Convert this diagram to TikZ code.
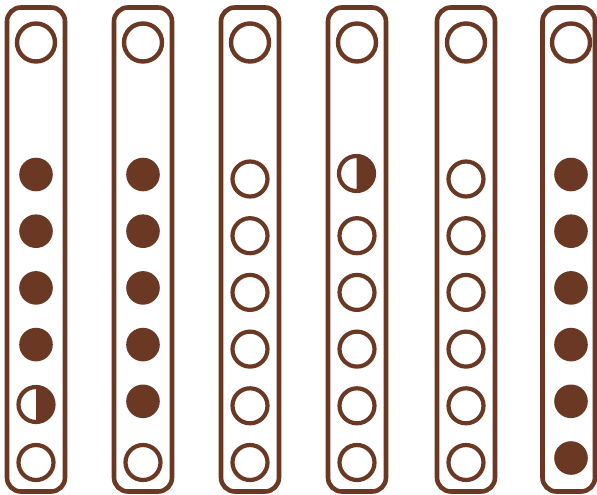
\documentclass[tikz,border=0pt]{standalone}
\definecolor{rust}{HTML}{6B3823}
\tikzset{
  rail/.style={draw=rust, line width=4.6pt, rounded corners=14pt},
  cap ring/.style={draw=rust, line width=4.4pt},
  hole/.style={draw=rust, line width=4.2pt},
  bead/.style={fill=rust},
}
% half bead: open ring with its right half filled
\newcommand{\halfbead}[2]{%
  \begin{scope}
    \clip (#1,#2-25) rectangle (#1+25,#2+25);
    \fill[rust] (#1,#2) circle[radius=17.5pt];
  \end{scope}
  \draw[hole] (#1,#2) circle[radius=17.5pt];
}
\begin{document}
\begin{tikzpicture}[x=1pt, y=-1pt]
    \useasboundingbox (0,0) rectangle (597,495);

    % Rails with their top ring
    \foreach \cx in {36,143,250,357,466} {
        \draw[rail] (\cx-29,7.5) rectangle (\cx+29,491.5);
        \draw[cap ring] (\cx,42.5) circle[radius=19pt];
    }
    % last rail is cut by the right edge
    \draw[rail] (542.5,7.5) rectangle (595,491.5);
    \draw[cap ring] (571,42.5) circle[radius=19pt];

    % Column 1
    \foreach \y in {174.5,231.2,287.9,344.6}
        \fill[bead] (36,\y) circle[radius=16.8pt];
    \halfbead{36}{404.5}
    \draw[hole] (36,462.5) circle[radius=17.5pt];

    % Column 2
    \foreach \y in {174.5,231.2,287.9,344.6,401.3}
        \fill[bead] (143,\y) circle[radius=16.8pt];
    \draw[hole] (143,462.5) circle[radius=17.5pt];

    % Column 3
    \foreach \y in {179,235.7,292.4,349.1,405.8,462.5}
        \draw[hole] (250,\y) circle[radius=17.5pt];

    % Column 4
    \halfbead{356.5}{173.5}
    \foreach \y in {235.7,292.4,349.1,405.8,462.5}
        \draw[hole] (357,\y) circle[radius=17.5pt];

    % Column 5
    \foreach \y in {179,235.7,292.4,349.1,405.8,462.5}
        \draw[hole] (466,\y) circle[radius=17.5pt];

    % Column 6
    \foreach \y in {174.5,231.2,287.9,344.6,401.3,458}
        \fill[bead] (571,\y) circle[radius=16.8pt];

\end{tikzpicture}
\end{document}
